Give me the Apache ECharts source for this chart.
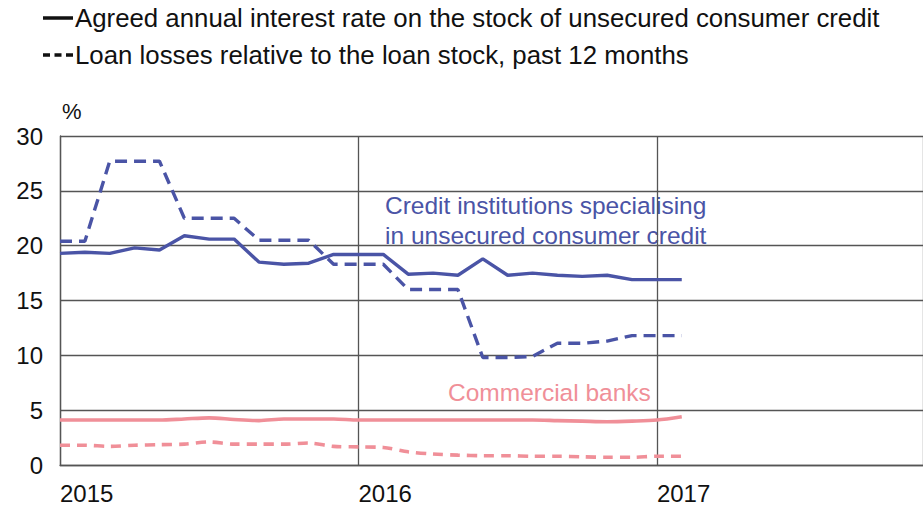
<!DOCTYPE html>
<html>
<head>
<meta charset="utf-8">
<script src="https://cdn.jsdelivr.net/npm/echarts@6/dist/echarts.min.js"></script>
<style>
html,body{margin:0;padding:0;background:#fff;}
#chart{width:923px;height:508px;}
</style>
</head>
<body>
<div id="chart"></div>
<script>
// month index: 0 = Jan 2015; the visible axis ends just before 2018 (cropped)
var months = [0,1,2,3,4,5,6,7,8,9,10,11,12,13,14,15,16,17,18,19,20,21,22,23,24,25];
var yearTicks = ['2015','2016','2017'];
var ciRate   = [19.3,19.4,19.3,19.8,19.6,20.9,20.6,20.6,18.5,18.3,18.4,19.2,19.2,19.2,17.4,17.5,17.3,18.8,17.3,17.5,17.3,17.2,17.3,16.9,16.9,16.9];
var ciLoss   = [20.4,20.4,27.7,27.7,27.7,22.5,22.5,22.5,20.5,20.5,20.5,18.3,18.3,18.3,16.0,16.0,16.0,9.8,9.8,9.9,11.1,11.1,11.3,11.8,11.8,11.8];
var cbRate   = [4.1,4.1,4.1,4.1,4.1,4.2,4.3,4.15,4.05,4.2,4.2,4.2,4.1,4.1,4.1,4.1,4.1,4.1,4.1,4.1,4.05,4.0,3.95,4.0,4.1,4.4];
var cbLoss   = [1.8,1.8,1.7,1.8,1.85,1.9,2.1,1.9,1.9,1.9,2.0,1.7,1.65,1.6,1.2,1.0,0.9,0.85,0.85,0.8,0.8,0.75,0.7,0.7,0.8,0.8];
var legendNames = ['Agreed annual interest rate on the stock of unsecured consumer credit','Loan losses relative to the loan stock, past 12 months'];

var BLUE = '#4a54a6', PINK = '#f08f98', FONT = 'Liberation Sans, Arial, sans-serif';
function pairs(arr){ return months.map(function(m,i){ return [m, arr[i]]; }); }

var chart = echarts.init(document.getElementById('chart'), null, {renderer:'svg'});
chart.setOption({
  animation:false,
  textStyle:{fontFamily:FONT},
  legend:{
    orient:'vertical', left:43, top:5, padding:0, itemWidth:30, itemHeight:14, itemGap:11,
    data:[
      {name:legendNames[0], icon:'path://M0,0L30,0L30,3.5L0,3.5Z'},
      {name:legendNames[1], icon:'path://M0,0h7v3.5h-7zM11.5,0h7v3.5h-7zM23,0h7v3.5h-7z'}
    ],
    textStyle:{fontSize:25.8, color:'#111', fontFamily:FONT, padding:[0,0,0,-3]},
    selectedMode:false
  },
  grid:{left:60, top:136, bottom:43, right:0, containLabel:false},
  xAxis:{
    type:'value', min:0, max:34.7, interval:12,
    axisLine:{show:true, lineStyle:{color:'#555', width:1.3}},
    axisTick:{show:false},
    splitLine:{show:true, lineStyle:{color:'#555', width:1.3}},
    axisLabel:{formatter:function(v){var t=yearTicks[v/12]; return t===undefined?'':t;}, showMaxLabel:false, align:'left', margin:16, fontSize:24, color:'#111', fontFamily:FONT}
  },
  yAxis:{
    type:'value', min:0, max:30, interval:5,
    axisLine:{show:true, lineStyle:{color:'#555', width:1.3}},
    axisTick:{show:false},
    splitLine:{show:true, lineStyle:{color:'#555', width:1.3}},
    axisLabel:{margin:17, fontSize:24, color:'#111', fontFamily:FONT}
  },
  graphic:[
    {type:'text', left:62, top:100, style:{text:'%', fontSize:22, fill:'#111', fontFamily:FONT}},
    {type:'text', left:385, top:190, style:{text:'Credit institutions specialising\nin unsecured consumer credit', fontSize:24.5, lineHeight:30, fill:BLUE, fontFamily:FONT}},
    {type:'text', left:448, top:380, style:{text:'Commercial banks', fontSize:24.5, fill:PINK, fontFamily:FONT}}
  ],
  series:[
    {name:legendNames[0], type:'line', data:[], symbol:'none', itemStyle:{color:'#111'}, lineStyle:{color:'#111', width:3}},
    {name:legendNames[1], type:'line', data:[], symbol:'none', itemStyle:{color:'#111'}, lineStyle:{color:'#111', width:3, type:[8,4]}},
    {name:'ciRate', type:'line', data:pairs(ciRate), symbol:'none', lineStyle:{color:BLUE, width:3.4}, z:3},
    {name:'ciLoss', type:'line', data:pairs(ciLoss), symbol:'none', lineStyle:{color:BLUE, width:3.4, type:[12,7]}, z:3},
    {name:'cbRate', type:'line', data:pairs(cbRate), symbol:'none', smooth:0.3, lineStyle:{color:PINK, width:3.6}, z:3},
    {name:'cbLoss', type:'line', data:pairs(cbLoss), symbol:'none', smooth:0.3, lineStyle:{color:PINK, width:3.6, type:[10,7]}, z:3}
  ]
});
</script>
</body>
</html>
